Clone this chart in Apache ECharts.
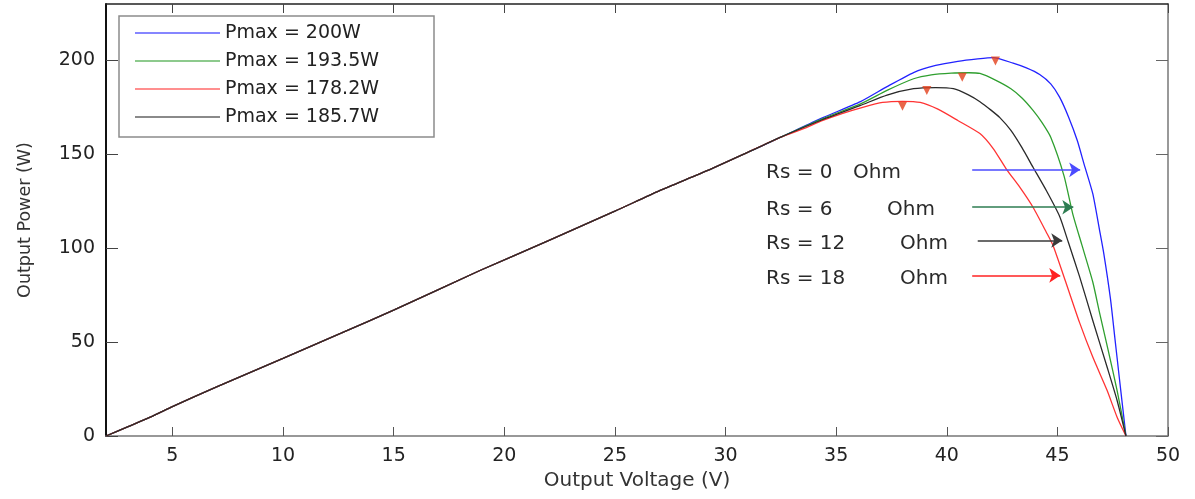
<!DOCTYPE html>
<html>
<head>
<meta charset="utf-8">
<script src="https://cdn.jsdelivr.net/npm/echarts@6/dist/echarts.min.js"></script>
<style>
  html, body { margin: 0; padding: 0; background: #fff; }
  #chart { width: 1195px; height: 499px; }
</style>
</head>
<body>
<div id="chart"></div>
<script>
// shared linear part of all four P-V curves
const vBase = [2, 3, 4, 5, 6, 8, 10, 12.6, 15, 18.9, 22, 25, 27, 29.2, 31, 32.5]
const pBase = [0, 5, 10, 15.6, 21, 31.2, 41.3, 54.6, 67, 88.1, 104, 119.7, 130.5, 141.4, 151, 159.1]

// Rs = 0 Ohm
const vBlue = [34.4, 36.1, 37.3, 38.5, 39.5, 40.5, 41.4, 42.1, 43.0, 43.6, 44.2, 44.7, 45.1, 45.5, 45.9, 46.2, 46.6, 46.9, 47.1, 47.4, 47.6, 47.8, 48.1]
const pBlue = [169.5, 178, 186, 193.5, 197.3, 199.5, 200.8, 201.5, 198.5, 196, 192.5, 187.5, 180.4, 170, 157.3, 145, 129, 110, 97, 73, 52, 31, 0]
// Rs = 6 Ohm
const vGreen = [34.4, 36.1, 37.3, 38.5, 39.3, 40.2, 41.0, 41.5, 42.2, 42.9, 43.4, 43.9, 44.3, 44.7, 45.3, 45.7, 46.1, 46.6, 46.9, 47.3, 47.7, 48.1]
const pGreen = [169, 176.8, 184, 190.2, 192.3, 193.2, 193.4, 193, 189.5, 184.9, 180, 173.4, 167, 159.1, 138.5, 118, 102, 82, 66, 45.5, 24.2, 0]
// Rs = 18 Ohm
const vRed = [33.5, 34.4, 35.3, 36.2, 37.1, 38.0, 38.8, 39.6, 40.5, 41.5, 42.1, 42.7, 43.3, 43.9, 44.5, 44.8, 45.4, 46.0, 46.6, 47.25, 47.7, 48.1]
const pRed = [163.5, 168, 171.8, 175, 177.6, 178.2, 177.6, 174, 168, 161, 153, 142, 132.5, 121.8, 108.5, 101.5, 81.2, 60.5, 42, 24.2, 10, 0]
// Rs = 12 Ohm
const vBlack = [34.4, 36.1, 37.3, 38.5, 39.5, 40.3, 41.0, 41.5, 42.0, 42.4, 42.9, 43.4, 43.9, 44.5, 45.1, 45.5, 46.0, 46.6, 47.25, 47.7, 48.1]
const pBlack = [168.5, 176, 181.5, 184.9, 185.5, 184.9, 181.5, 178, 173.5, 169.5, 162.7, 153.5, 143.1, 130.7, 117, 103, 85, 61.5, 36.6, 18.9, 0]

// maximum power points (triangle markers)
const mppV = [42.2, 40.7, 39.1, 38.0]
const mppP = [199.7, 191, 184, 175.5]

const legendNames = ['Pmax = 200W', 'Pmax = 193.5W', 'Pmax = 178.2W', 'Pmax = 185.7W']
const colors = ['#2222ff', '#2f9f2f', '#ff3333', '#2a2a2a']

// arrows Rs labels -> curves
const arrowV0 = [41.15, 41.15, 41.4, 41.15]
const arrowV1 = [46.03, 45.72, 45.22, 45.13]
const arrowP = [141.7, 121.8, 104.1, 85.5]
const arrowColors = ['#4b4bff', '#2e7d52', '#3a3a3a', '#ff2222']
const rsLabels = ['Rs = 0', 'Rs = 6', 'Rs = 12', 'Rs = 18']

const xTicks = [5, 10, 15, 20, 25, 30, 35, 40, 45, 50]
const yTicks = [0, 50, 100, 150, 200]

const font = 'DejaVu Sans'

function curve(v, p) {
  const pts = vBase.map((x, i) => [x, pBase[i]])
  v.forEach((x, i) => pts.push([x, p[i]]))
  return pts
}

const chart = echarts.init(document.getElementById('chart'))

const lineSeries = [[vBlue, pBlue], [vGreen, pGreen], [vRed, pRed], [vBlack, pBlack]].map((d, i) => ({
  name: legendNames[i],
  type: 'line',
  data: curve(d[0], d[1]),
  symbol: 'none',
  smooth: 0.2,
  color: colors[i],
  lineStyle: { width: 1.3, color: colors[i] },
  z: 2 + i
}))

const option = {
  animation: false,
  grid: { left: 106, right: 27, top: 4, bottom: 63 },
  legend: {
    data: legendNames,
    orient: 'vertical',
    left: 119,
    top: 16,
    padding: [7, 19, 10, 16],
    icon: 'rect',
    itemWidth: 85,
    itemHeight: 2,
    itemGap: 8,
    itemStyle: { opacity: 0.55 },
    backgroundColor: '#fff',
    borderColor: '#8c8c8c',
    borderWidth: 1.5,
    borderRadius: 0,
    textStyle: { fontFamily: font, fontSize: 19, lineHeight: 20, color: '#222', width: 190 }
  },
  xAxis: [{
    type: 'value', min: 2, max: 50,
    name: 'Output Voltage (V)', nameLocation: 'middle', nameGap: 34,
    nameTextStyle: { fontFamily: font, fontSize: 20, color: '#333' },
    axisLine: { onZero: false, lineStyle: { color: '#777', width: 1.5 } },
    axisTick: { inside: true, length: 9, customValues: xTicks, lineStyle: { color: '#555' } },
    axisLabel: { customValues: xTicks, margin: 11, fontFamily: font, fontSize: 19, color: '#222' },
    splitLine: { show: false }
  }, {
    type: 'value', min: 2, max: 50, position: 'top',
    axisLine: { onZero: false, lineStyle: { color: '#222', width: 1.5 } },
    axisTick: { inside: true, length: 9, customValues: xTicks, lineStyle: { color: '#444' } },
    axisLabel: { show: false },
    splitLine: { show: false }
  }],
  yAxis: [{
    type: 'value', min: 0, max: 230,
    name: 'Output Power (W)', nameLocation: 'middle', nameGap: 72,
    nameTextStyle: { fontFamily: font, fontSize: 17.5, color: '#333' },
    axisLine: { show: true, onZero: false, lineStyle: { color: '#111', width: 2 } },
    axisTick: { show: true, inside: true, length: 12, customValues: yTicks, lineStyle: { color: '#444' } },
    axisLabel: { customValues: yTicks, margin: 11, fontFamily: font, fontSize: 19, color: '#222' },
    splitLine: { show: false }
  }, {
    type: 'value', min: 0, max: 230, position: 'right',
    axisLine: { show: true, onZero: false, lineStyle: { color: '#777', width: 1.5 } },
    axisTick: { show: true, inside: true, length: 12, customValues: yTicks, lineStyle: { color: '#666' } },
    axisLabel: { show: false },
    splitLine: { show: false }
  }],
  series: [
    ...lineSeries,
    {
      type: 'scatter',
      data: mppV.map((v, i) => [v, mppP[i]]),
      symbol: 'triangle',
      symbolRotate: 180,
      symbolSize: 9,
      itemStyle: { color: '#e2401c' },
      z: 10
    },
    {
      type: 'lines',
      coordinateSystem: 'cartesian2d',
      symbol: ['none', 'arrow'],
      symbolSize: 11,
      data: arrowP.map((p, i) => ({
        coords: [[arrowV0[i], p], [arrowV1[i], p]],
        lineStyle: { color: arrowColors[i], width: 1.6, opacity: 1 }
      })),
      z: 11
    }
  ],
  graphic: []
}

chart.setOption(option)

// Rs annotation texts, placed next to their arrows
const ohmX = [853, 887, 900, 900]
const graphic = []
arrowP.forEach((p, i) => {
  const y = chart.convertToPixel({ yAxisIndex: 0 }, p) + 3
  const st = { font: '20px "DejaVu Sans"', fill: '#2a2a2a', verticalAlign: 'middle' }
  graphic.push({ type: 'text', x: 766, y: y, style: Object.assign({ text: rsLabels[i] }, st) })
  graphic.push({ type: 'text', x: ohmX[i], y: y, style: Object.assign({ text: 'Ohm' }, st) })
})
chart.setOption({ graphic: graphic })
</script>
</body>
</html>
